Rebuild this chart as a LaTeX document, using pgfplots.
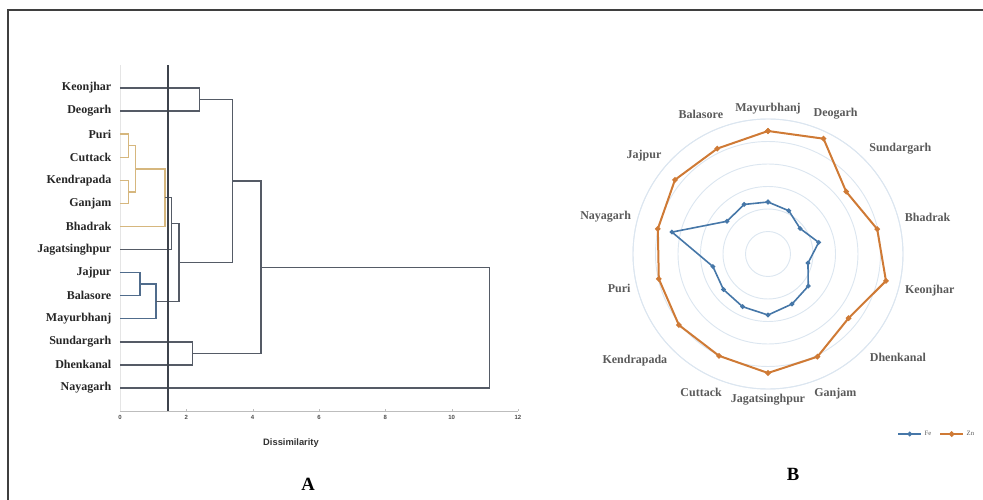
\documentclass[border=0pt]{standalone}
\usepackage{pgfplots}
\pgfplotsset{compat=1.18}
\usepgfplotslibrary{polar}
\usepackage{fontspec}
\setmainfont{Liberation Serif}
\setsansfont{Liberation Sans}
\definecolor{framec}{HTML}{3F3F3F}
\definecolor{dgray}{HTML}{555B66}
\definecolor{tanc}{HTML}{D6B77E}
\definecolor{bluec}{HTML}{506C8C}
\definecolor{cutc}{HTML}{3E434C}
\definecolor{axgray}{HTML}{BDBDBD}
\definecolor{ringc}{HTML}{DCE6F0}
\definecolor{feblue}{HTML}{4677A8}
\definecolor{znorange}{HTML}{CF7A35}
\definecolor{labgray}{HTML}{5A5A5A}
\begin{document}
\begin{tikzpicture}
\path[use as bounding box] (0,0) rectangle (737.25pt,375pt);
\draw[color=framec, line width=1.3pt] (6pt,0pt) -- (6pt,367.5pt) -- (737.25pt,367.5pt);
% ---------------- Panel A: dendrogram ----------------
\begin{axis}[
  at={(90pt,66.75pt)}, anchor=south west,
  width=298.5pt, height=259.5pt, scale only axis,
  xmin=0, xmax=12, ymin=0, ymax=15, y dir=reverse,
  axis x line*=bottom, axis y line*=left,
  x axis line style={draw=axgray, line width=0.6pt},
  y axis line style={draw=black!10, line width=0.6pt},
  xtick={0,2,...,12},
  ytick={1,...,14},
  yticklabels={Keonjhar,Deogarh,Puri,Cuttack,Kendrapada,Ganjam,Bhadrak,Jagatsinghpur,Jajpur,Balasore,Mayurbhanj,Sundargarh,Dhenkanal,Nayagarh},
  yticklabel style={font=\fontsize{9}{10}\selectfont\bfseries, text=black!85, xshift=-3pt},
  xticklabel style={font=\fontsize{4.5}{5}\selectfont\sffamily\bfseries, text=black!70},
  /pgf/number format/assume math mode=true,
  xtick style={draw=axgray}, ytick style={draw=none},
  major tick length=1.5pt,
  clip=false,
  every axis plot/.append style={line width=1.1pt, mark=none},
]
\addplot[dgray]  coordinates {(0,1) (2.4,1) (2.4,2) (0,2)};
\addplot[tanc]   coordinates {(0,3) (0.25,3) (0.25,4) (0,4)};
\addplot[tanc]   coordinates {(0,5) (0.25,5) (0.25,6) (0,6)};
\addplot[tanc]   coordinates {(0.25,3.5) (0.46,3.5) (0.46,5.5) (0.25,5.5)};
\addplot[tanc]   coordinates {(0.46,4.5) (1.36,4.5) (1.36,7) (0,7)};
\addplot[dgray]  coordinates {(1.36,5.75) (1.56,5.75) (1.56,8) (0,8)};
\addplot[bluec]  coordinates {(0,9) (0.6,9) (0.6,10) (0,10)};
\addplot[bluec]  coordinates {(0.6,9.5) (1.08,9.5) (1.08,11) (0,11)};
\addplot[dgray]  coordinates {(1.56,6.875) (1.78,6.875) (1.78,10.25) (1.08,10.25)};
\addplot[dgray]  coordinates {(2.4,1.5) (3.39,1.5) (3.39,8.5625) (1.78,8.5625)};
\addplot[dgray]  coordinates {(0,12) (2.19,12) (2.19,13) (0,13)};
\addplot[dgray]  coordinates {(3.39,5.03) (4.25,5.03) (4.25,12.5) (2.19,12.5)};
\addplot[dgray]  coordinates {(4.25,8.77) (11.14,8.77) (11.14,14) (0,14)};
\addplot[cutc, line width=1pt] coordinates {(1.45,0) (1.45,15)};
\end{axis}
\node[font=\fontsize{7}{8}\selectfont\sffamily\bfseries, text=black!80] at (218.25pt,42.75pt) {Dissimilarity};
\node[font=\fontsize{14}{14}\selectfont\bfseries] at (231pt,12pt) {A};
% ---------------- Panel B: radar ----------------
\begin{polaraxis}[
  at={(576pt,184.5pt)}, anchor=origin,
  width=202.5pt, height=202.5pt, scale only axis,
  xmin=0, xmax=360, ymin=0, ymax=135,
  xtick={90,64.286,38.571,12.857,347.143,321.429,295.714,270,244.286,218.571,192.857,167.143,141.429,115.714},
  xticklabels={Mayurbhanj,Deogarh,Sundargarh,Bhadrak,Keonjhar,Dhenkanal,Ganjam,Jagatsinghpur,Cuttack,Kendrapada,Puri,Nayagarh,Jajpur,Balasore},
  xticklabel style={font=\fontsize{9}{10}\selectfont\bfseries, text=labgray},
  ytick={22.5,45,67.5,90,112.5,135},
  yticklabels={},
  ymajorgrids=true, xmajorgrids=false,
  grid style={draw=ringc, line width=0.7pt},
  x axis line style={draw=ringc, line width=0.7pt},
  y axis line style={draw=none},
  tick style={draw=none},
  clip=false,
  legend style={at={(1.289,-0.167)}, anchor=east, draw=none, fill=none,
    font=\fontsize{5}{6}\selectfont, text=labgray, legend columns=2,
    /tikz/every even column/.append style={column sep=4pt}},
]
\addplot[feblue, line width=1.2pt, mark=*, mark size=1.1pt, mark options={solid, fill=feblue}] coordinates {
  (90,52) (64.286,48) (38.571,41) (12.857,52) (347.143,41) (321.429,51.5) (295.714,55.5)
  (270,61) (244.286,58.5) (218.571,57) (192.857,56.5) (167.143,98.5) (141.429,52.5) (115.714,55) (90,52)};
\addlegendentry{Fe}
\addplot[znorange, line width=1.5pt, mark=*, mark size=1.2pt, mark options={solid, fill=znorange}] coordinates {
  (90,123) (64.286,128) (38.571,100) (12.857,112) (347.143,121) (321.429,103) (295.714,114)
  (270,119) (244.286,113) (218.571,114) (192.857,112) (167.143,113) (141.429,119) (115.714,117) (90,123)};
\addlegendentry{Zn}
\end{polaraxis}
\node[font=\fontsize{14}{14}\selectfont\bfseries] at (594.75pt,19.5pt) {B};
\end{tikzpicture}
\end{document}
